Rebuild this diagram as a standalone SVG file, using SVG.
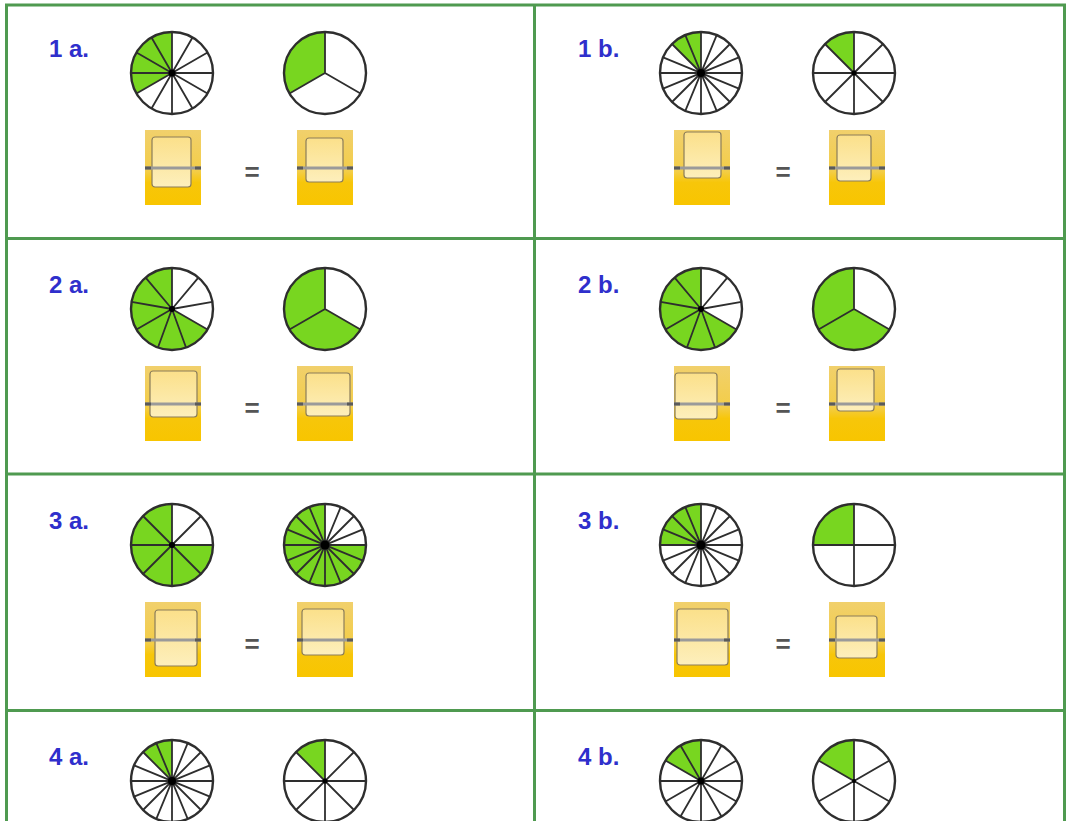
<svg xmlns="http://www.w3.org/2000/svg" xmlns:xlink="http://www.w3.org/1999/xlink" width="1068" height="821" viewBox="0 0 1068 821">
<style>
.grid{fill:none;stroke:#4f9a50;stroke-width:3}
.wd{fill:#78d620;stroke:none}
.sp{fill:none;stroke:#2e2e2e;stroke-width:1.8}
.rim{fill:none;stroke:#2e2e2e;stroke-width:2.4}
.dot{fill:#000}
.lbl{font-family:"Liberation Sans",Arial,sans-serif;font-weight:bold;font-size:24px;fill:#2f2fcc}
.eq{font-family:"Liberation Sans",Arial,sans-serif;font-weight:bold;font-size:26px;fill:#555;text-anchor:middle}
.bx{fill:url(#gOut)}
.in{fill:url(#gIn);stroke:#8b7d5a;stroke-width:1.2}
.fl{stroke:#9a9a9a;stroke-width:3}
.fe{stroke:#5a5a5a;stroke-width:3}
</style>
<defs>
<linearGradient id="gOut" x1="0" y1="0" x2="0" y2="1">
<stop offset="0" stop-color="#f1d06c"/>
<stop offset="0.55" stop-color="#f3cd48"/>
<stop offset="0.7" stop-color="#f7c60a"/>
<stop offset="1" stop-color="#f8c500"/>
</linearGradient>
<linearGradient id="gIn" x1="0" y1="0" x2="0" y2="1">
<stop offset="0" stop-color="#fbe08a"/>
<stop offset="1" stop-color="#fdefbc"/>
</linearGradient>
<path id="w45" class="wd" d="M0,0 L0,-41 A41,41 0 0 0 -28.99,-28.99 Z"/>
<path id="w60" class="wd" d="M0,0 L0,-41 A41,41 0 0 0 -35.51,-20.5 Z"/>
<path id="w90" class="wd" d="M0,0 L0,-41 A41,41 0 0 0 -41,0 Z"/>
<path id="w120" class="wd" d="M0,0 L0,-41 A41,41 0 0 0 -35.51,20.5 Z"/>
<path id="w240" class="wd" d="M0,0 L0,-41 A41,41 0 1 0 35.51,20.5 Z"/>
<path id="w270" class="wd" d="M0,0 L0,-41 A41,41 0 1 0 41,0 Z"/>
<path id="s3" class="sp" d="M0,0 L0,-41 M0,0 L35.51,20.5 M0,0 L-35.51,20.5"/>
<path id="s4" class="sp" d="M0,-41 L0,41 M-41,0 L41,0"/>
<path id="s6" class="sp" d="M0,-41 L0,41 M35.51,-20.5 L-35.51,20.5 M35.51,20.5 L-35.51,-20.5"/>
<path id="s8" class="sp" d="M0,-41 L0,41 M-41,0 L41,0 M28.99,-28.99 L-28.99,28.99 M28.99,28.99 L-28.99,-28.99"/>
<path id="s9" class="sp" d="M0,0 L0,-41 M0,0 L26.35,-31.41 M0,0 L40.38,-7.12 M0,0 L35.51,20.5 M0,0 L14.02,38.53 M0,0 L-14.02,38.53 M0,0 L-35.51,20.5 M0,0 L-40.38,-7.12 M0,0 L-26.35,-31.41"/>
<path id="s12" class="sp" d="M0,-41 L0,41 M20.5,-35.51 L-20.5,35.51 M35.51,-20.5 L-35.51,20.5 M41,0 L-41,0 M35.51,20.5 L-35.51,-20.5 M20.5,35.51 L-20.5,-35.51"/>
<path id="s16" class="sp" d="M0,-41 L0,41 M15.69,-37.88 L-15.69,37.88 M28.99,-28.99 L-28.99,28.99 M37.88,-15.69 L-37.88,15.69 M41,0 L-41,0 M37.88,15.69 L-37.88,-15.69 M28.99,28.99 L-28.99,-28.99 M15.69,37.88 L-15.69,-37.88"/>
<g id="box">
<rect class="bx" width="56" height="75"/>
</g>
<g id="bline">
<line class="fl" x1="0" y1="38" x2="56" y2="38"/>
<path class="fe" d="M0,38 H6 M50,38 H56"/>
</g>
</defs>

<g id="grid">
<rect class="grid" x="6.5" y="5" width="1058" height="840"/>
<line class="grid" x1="534.5" y1="5" x2="534.5" y2="821"/>
<line class="grid" x1="6.5" y1="238.5" x2="1064.5" y2="238.5"/>
<line class="grid" x1="6.5" y1="474" x2="1064.5" y2="474"/>
<line class="grid" x1="6.5" y1="710.5" x2="1064.5" y2="710.5"/>
</g>

<g id="cell-1a">
<text class="lbl" x="49" y="57">1 a.</text>
<g transform="translate(172,73)"><use xlink:href="#w120"/><use xlink:href="#s12"/><circle class="rim" r="41"/><circle class="dot" r="3.5"/></g>
<g transform="translate(325,73)"><use xlink:href="#w120"/><use xlink:href="#s3"/><circle class="rim" r="41"/></g>
<g transform="translate(145,130)"><use xlink:href="#box"/><rect class="in" x="7" y="7" width="39" height="50" rx="3"/><use xlink:href="#bline"/></g>
<text class="eq" x="252" y="181">=</text>
<g transform="translate(297,130)"><use xlink:href="#box"/><rect class="in" x="9" y="8" width="37" height="44" rx="3"/><use xlink:href="#bline"/></g>
</g>

<g id="cell-1b">
<text class="lbl" x="578" y="57">1 b.</text>
<g transform="translate(701,73)"><use xlink:href="#w45"/><use xlink:href="#s16"/><circle class="rim" r="41"/><circle class="dot" r="4"/></g>
<g transform="translate(854,73)"><use xlink:href="#w45"/><use xlink:href="#s8"/><circle class="rim" r="41"/><circle class="dot" r="2.5"/></g>
<g transform="translate(674,130)"><use xlink:href="#box"/><rect class="in" x="10" y="2" width="37" height="46" rx="3"/><use xlink:href="#bline"/></g>
<text class="eq" x="783" y="181">=</text>
<g transform="translate(829,130)"><use xlink:href="#box"/><rect class="in" x="8" y="5" width="34" height="46" rx="3"/><use xlink:href="#bline"/></g>
</g>

<g id="cell-2a">
<text class="lbl" x="49" y="293">2 a.</text>
<g transform="translate(172,309)"><use xlink:href="#w240"/><use xlink:href="#s9"/><circle class="rim" r="41"/><circle class="dot" r="3"/></g>
<g transform="translate(325,309)"><use xlink:href="#w240"/><use xlink:href="#s3"/><circle class="rim" r="41"/></g>
<g transform="translate(145,366)"><use xlink:href="#box"/><rect class="in" x="5" y="5" width="47" height="46" rx="3"/><use xlink:href="#bline"/></g>
<text class="eq" x="252" y="417">=</text>
<g transform="translate(297,366)"><use xlink:href="#box"/><rect class="in" x="9" y="7" width="44" height="43" rx="3"/><use xlink:href="#bline"/></g>
</g>

<g id="cell-2b">
<text class="lbl" x="578" y="293">2 b.</text>
<g transform="translate(701,309)"><use xlink:href="#w240"/><use xlink:href="#s9"/><circle class="rim" r="41"/><circle class="dot" r="3"/></g>
<g transform="translate(854,309)"><use xlink:href="#w240"/><use xlink:href="#s3"/><circle class="rim" r="41"/></g>
<g transform="translate(674,366)"><use xlink:href="#box"/><rect class="in" x="1" y="7" width="42" height="46" rx="3"/><use xlink:href="#bline"/></g>
<text class="eq" x="783" y="417">=</text>
<g transform="translate(829,366)"><use xlink:href="#box"/><rect class="in" x="8" y="3" width="37" height="42" rx="3"/><use xlink:href="#bline"/></g>
</g>

<g id="cell-3a">
<text class="lbl" x="49" y="529">3 a.</text>
<g transform="translate(172,545)"><use xlink:href="#w270"/><use xlink:href="#s8"/><circle class="rim" r="41"/><circle class="dot" r="3"/></g>
<g transform="translate(325,545)"><use xlink:href="#w270"/><use xlink:href="#s16"/><circle class="rim" r="41"/><circle class="dot" r="4.5"/></g>
<g transform="translate(145,602)"><use xlink:href="#box"/><rect class="in" x="10" y="8" width="42" height="56" rx="3"/><use xlink:href="#bline"/></g>
<text class="eq" x="252" y="653">=</text>
<g transform="translate(297,602)"><use xlink:href="#box"/><rect class="in" x="5" y="7" width="42" height="46" rx="3"/><use xlink:href="#bline"/></g>
</g>

<g id="cell-3b">
<text class="lbl" x="578" y="529">3 b.</text>
<g transform="translate(701,545)"><use xlink:href="#w90"/><use xlink:href="#s16"/><circle class="rim" r="41"/><circle class="dot" r="4.5"/></g>
<g transform="translate(854,545)"><use xlink:href="#w90"/><use xlink:href="#s4"/><circle class="rim" r="41"/></g>
<g transform="translate(674,602)"><use xlink:href="#box"/><rect class="in" x="3" y="7" width="51" height="56" rx="3"/><use xlink:href="#bline"/></g>
<text class="eq" x="783" y="653">=</text>
<g transform="translate(829,602)"><use xlink:href="#box"/><rect class="in" x="7" y="14" width="41" height="42" rx="3"/><use xlink:href="#bline"/></g>
</g>

<g id="cell-4a">
<text class="lbl" x="49" y="765">4 a.</text>
<g transform="translate(172,781)"><use xlink:href="#w45"/><use xlink:href="#s16"/><circle class="rim" r="41"/><circle class="dot" r="4"/></g>
<g transform="translate(325,781)"><use xlink:href="#w45"/><use xlink:href="#s8"/><circle class="rim" r="41"/><circle class="dot" r="2.5"/></g>
</g>

<g id="cell-4b">
<text class="lbl" x="578" y="765">4 b.</text>
<g transform="translate(701,781)"><use xlink:href="#w60"/><use xlink:href="#s12"/><circle class="rim" r="41"/><circle class="dot" r="3.5"/></g>
<g transform="translate(854,781)"><use xlink:href="#w60"/><use xlink:href="#s6"/><circle class="rim" r="41"/><circle class="dot" r="2"/></g>
</g>
</svg>
